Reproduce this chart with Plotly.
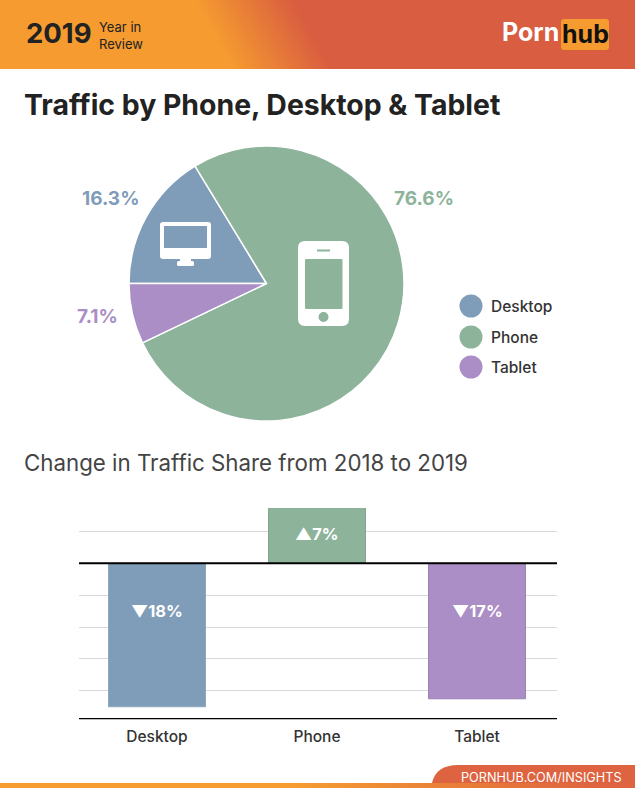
import base64
import plotly.graph_objects as go

W, H = 635, 788
FONT = "Inter"

# ---- data ----
categories = ["Desktop", "Phone", "Tablet"]
pie_shares = [16.3, 76.6, 7.1]
pie_labels = ["16.3%", "76.6%", "7.1%"]
change_values = [-18, 7, -17]
change_labels = ["▼18%", "▲7%", "▼17%"]
change_label_y = [-6.0, 3.7, -6.0]
colors = ["#7F9CB8", "#8DB39B", "#AA8EC5"]
border_colors = ["#8CA6BF", "#7FA68E", "#9A80B5"]


def px(x):
    return x / W


def py(y):
    return 1 - y / H


def gradient_uri(w, h, x1, y1, x2, y2, c1, c2):
    svg = (
        f'<svg xmlns="http://www.w3.org/2000/svg" width="{w}" height="{h}" viewBox="0 0 {w} {h}">'
        f'<defs><linearGradient id="g" gradientUnits="userSpaceOnUse" x1="{x1}" y1="{y1}" x2="{x2}" y2="{y2}">'
        f'<stop offset="0" stop-color="{c1}"/><stop offset="1" stop-color="{c2}"/>'
        f'</linearGradient></defs><rect width="{w}" height="{h}" fill="url(#g)"/></svg>'
    )
    return "data:image/svg+xml;base64," + base64.b64encode(svg.encode()).decode()


def rrect(x0, y0, x1, y1, r, fill):
    path = (
        f"M{px(x0+r)},{py(y0)} L{px(x1-r)},{py(y0)} Q{px(x1)},{py(y0)} {px(x1)},{py(y0+r)} "
        f"L{px(x1)},{py(y1-r)} Q{px(x1)},{py(y1)} {px(x1-r)},{py(y1)} "
        f"L{px(x0+r)},{py(y1)} Q{px(x0)},{py(y1)} {px(x0)},{py(y1-r)} "
        f"L{px(x0)},{py(y0+r)} Q{px(x0)},{py(y0)} {px(x0+r)},{py(y0)} Z"
    )
    return dict(type="path", xref="paper", yref="paper", path=path,
                fillcolor=fill, line=dict(width=0), layer="above")


def circle(cx, cy, r, fill):
    return dict(type="circle", xref="paper", yref="paper",
                x0=px(cx - r), x1=px(cx + r), y0=py(cy + r), y1=py(cy - r),
                fillcolor=fill, line=dict(width=0), layer="above")


def label(x, y, text, size, color, weight=400, anchor="left"):
    return dict(xref="paper", yref="paper", x=px(x), y=py(y), text=text, showarrow=False,
                xanchor=anchor, yanchor="middle", borderpad=0, borderwidth=0,
                font=dict(family=FONT, size=size, color=color, weight=weight))


fig = go.Figure()

fig.add_trace(go.Pie(
    labels=categories, values=pie_shares, sort=False, direction="clockwise", rotation=270,
    marker=dict(colors=colors, line=dict(color="#FFFFFF", width=1.5)),
    textinfo="none", hoverinfo="label+percent", showlegend=False,
    domain=dict(x=[px(129), px(404)], y=[py(421), py(146)]),
))

fig.add_trace(go.Bar(
    x=categories, y=change_values, width=0.606, showlegend=False,
    marker=dict(color=colors, line=dict(color=border_colors, width=1)),
    hoverinfo="x+y",
))

shapes = [
    # monitor icon
    rrect(160, 222, 211, 259, 3, "#FFFFFF"),
    rrect(164, 226, 207, 248, 0, colors[0]),
    rrect(180, 258, 191, 262, 0, "#FFFFFF"),
    rrect(177, 261, 194, 266, 1.5, "#FFFFFF"),
    # phone icon
    rrect(298, 241, 349, 326, 7, "#FFFFFF"),
    rrect(305, 259, 342.5, 309, 1, colors[1]),
    rrect(317, 249.5, 330, 251.5, 0, colors[1]),
    circle(323.5, 317, 5, colors[1]),
    # legend dots
    circle(471, 306, 11.5, colors[0]),
    circle(471, 337, 11.5, colors[1]),
    circle(471, 367, 11.5, colors[2]),
    # logo box
    rrect(561, 19, 609, 50, 3, "#F59B30"),
    # bar chart zero line
    dict(type="line", xref="x domain", yref="y", x0=0, x1=1, y0=0, y1=0,
         line=dict(color="#000000", width=2), layer="above"),
    # footer tab
    dict(type="path", xref="paper", yref="paper",
         path=(f"M{px(432)},{py(783)} Q{px(436)},{py(765)} {px(458)},{py(765)} "
               f"L{px(635)},{py(765)} L{px(635)},{py(783)} Z"),
         fillcolor="#DE6340", line=dict(width=0), layer="below"),
]

images = [
    dict(source=gradient_uri(635, 69, 195, 0, 270, -42, "#F59B30", "#D95D40"),
         xref="paper", yref="paper", x=0, y=1, sizex=1, sizey=69 / H,
         xanchor="left", yanchor="top", sizing="stretch", layer="below"),
    dict(source=gradient_uri(635, 5, 300, 0, 600, 0, "#F59B30", "#DE6340"),
         xref="paper", yref="paper", x=0, y=py(783), sizex=1, sizey=5 / H,
         xanchor="left", yanchor="top", sizing="stretch", layer="below"),
]

DARK = "#222222"
annotations = [
    label(26, 33, "2019", 27.5, DARK, 700),
    label(99, 27.5, "Year in", 13, DARK),
    label(99, 43.5, "Review", 13, DARK),
    label(502, 32, "Porn", 25, "#FFFFFF", 700),
    label(585, 34, "hub", 25, "#111111", 700, "center"),
    label(24, 105, "Traffic by Phone, Desktop &amp; Tablet", 28.4, DARK, 700),
    label(24, 462, "Change in Traffic Share from 2018 to 2019", 22.3, "#444444"),
    label(110, 198, pie_labels[0], 19, colors[0], 700, "center"),
    label(424, 198, pie_labels[1], 19, colors[1], 700, "center"),
    label(97, 316, pie_labels[2], 19, colors[2], 700, "center"),
    label(491, 306, categories[0], 15.5, "#333333", 500),
    label(491, 337, categories[1], 15.5, "#333333", 500),
    label(491, 367, categories[2], 15.5, "#333333", 500),
    label(461, 777, "PORNHUB.COM/INSIGHTS", 12.7, "#FFFFFF"),
]
for cat, txt, yv in zip(categories, change_labels, change_label_y):
    annotations.append(dict(xref="x", yref="y", x=cat, y=yv, text=txt, showarrow=False,
                            font=dict(family=FONT, size=16.5, color="#FFFFFF", weight=700)))

fig.update_layout(
    width=W, height=H, autosize=False,
    margin=dict(l=0, r=0, t=0, b=0, pad=0),
    paper_bgcolor="#FFFFFF", plot_bgcolor="#FFFFFF",
    shapes=shapes, images=images, annotations=annotations,
    font=dict(family=FONT),
    xaxis=dict(domain=[px(79), px(557)], range=[-0.4875, 2.5], showgrid=False, showline=False,
               ticks="outside", ticklen=3, tickcolor="rgba(0,0,0,0)",
               tickfont=dict(family=FONT, size=15.5, color="#333333", weight=500),
               fixedrange=True),
    yaxis=dict(domain=[py(719.5), py(508)], range=[-19.6, 6.95], dtick=4, tick0=0,
               showticklabels=False, gridcolor="#D9D9D9", gridwidth=1, zeroline=False,
               fixedrange=True),
)
fig.add_shape(type="line", xref="x domain", yref="y", x0=0, x1=1, y0=-19.5, y1=-19.5,
              line=dict(color="#000000", width=1.5), layer="above")

fig.write_html("out.html", config=dict(displayModeBar=False),
               post_script="document.body.style.margin='0';document.body.style.overflow='hidden';")
